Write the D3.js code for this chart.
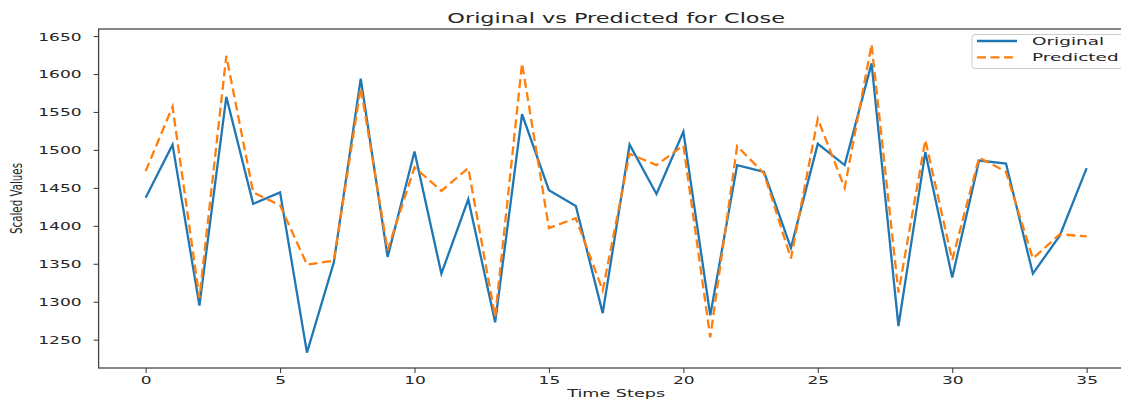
<!DOCTYPE html>
<html>
<head>
<meta charset="utf-8">
<script src="https://cdn.jsdelivr.net/npm/d3@7"></script>
<style>
  html, body { margin: 0; padding: 0; background: #fff; }
  svg { display: block; font-family: "DejaVu Sans", sans-serif; }
</style>
</head>
<body>
<svg id="chart" width="1121" height="399"></svg>
<script>
// Time step index for each observation
const timeSteps = d3.range(0, 36);

// Actual closing values
const original = [1437, 1507, 1295, 1570, 1429, 1444, 1233, 1352, 1594, 1359,
                  1498, 1337, 1435, 1273, 1547, 1447, 1426, 1285, 1507, 1442,
                  1524, 1282, 1480, 1471, 1371, 1508, 1480, 1614, 1268, 1497,
                  1332, 1486, 1482, 1337, 1387, 1476];

// Model predictions
const predicted = [1472, 1557, 1305, 1624, 1444, 1427, 1349, 1354, 1582, 1368,
                   1477, 1446, 1476, 1280, 1614, 1397, 1410, 1315, 1495, 1480,
                   1506, 1253, 1505, 1469, 1357, 1541, 1450, 1639, 1312, 1513,
                   1355, 1490, 1471, 1357, 1389, 1386];

const xTicks = [0, 5, 10, 15, 20, 25, 30, 35];
const yTicks = [1250, 1300, 1350, 1400, 1450, 1500, 1550, 1600, 1650];

const seriesNames = ["Original", "Predicted"];
const titleText = "Original vs Predicted for Close";
const xLabelText = "Time Steps";
const yLabelText = "Scaled Values";

// ---- layout ----
const plot = { left: 98.6, right: 1133.7, top: 29, bottom: 368 };
const colors = { Original: "#1f77b4", Predicted: "#ff7f0e" };
const spineColor = "#444";
const textColor = "#262626";
const stretch = { tick: 1.55, title: 1.6, label: 1.6, legend: 1.68 };

const svg = d3.select("#chart");

// x: matplotlib-style 5% margins around the index range
const xPad = (timeSteps[timeSteps.length - 1] - timeSteps[0]) * 0.05;
const x = d3.scaleLinear()
  .domain([timeSteps[0] - xPad, timeSteps[timeSteps.length - 1] + xPad])
  .range([plot.left, plot.right]);

const allVals = original.concat(predicted);
const [yMin, yMax] = d3.extent(allVals);
const yPad = (yMax - yMin) * 0.05;
const y = d3.scaleLinear()
  .domain([yMin - yPad, yMax + yPad])
  .range([plot.bottom, plot.top]);

// ---- lines ----
svg.append("clipPath").attr("id", "plotClip")
  .append("rect")
  .attr("x", plot.left).attr("y", plot.top)
  .attr("width", plot.right - plot.left).attr("height", plot.bottom - plot.top);

const line = d3.line().x((d, i) => x(timeSteps[i])).y(d => y(d));

const lines = svg.append("g").attr("clip-path", "url(#plotClip)");
lines.append("path")
  .datum(original)
  .attr("d", line)
  .attr("fill", "none")
  .attr("stroke", colors.Original)
  .attr("stroke-width", 2.3)
  .attr("stroke-linejoin", "miter");
lines.append("path")
  .datum(predicted)
  .attr("d", line)
  .attr("fill", "none")
  .attr("stroke", colors.Predicted)
  .attr("stroke-width", 2.3)
  .attr("stroke-dasharray", "9,4.5")
  .attr("stroke-linejoin", "miter");

// ---- spines ----
const spines = svg.append("g")
  .attr("fill", "none").attr("stroke", spineColor).attr("stroke-width", 1.3);
spines.append("rect")
  .attr("x", plot.left).attr("y", plot.top)
  .attr("width", plot.right - plot.left).attr("height", plot.bottom - plot.top);

// ---- axes ----
const yAxis = svg.append("g")
  .attr("transform", `translate(${plot.left},0)`)
  .call(d3.axisLeft(y).tickValues(yTicks).tickSize(5).tickFormat(d3.format("d")));
yAxis.select(".domain").remove();
yAxis.selectAll(".tick line").attr("stroke", spineColor).attr("stroke-width", 1.1);
yAxis.selectAll(".tick text")
  .attr("x", 0)
  .attr("dy", "0.36em")
  .attr("transform", `translate(-17,0) scale(${stretch.tick},1)`)
  .attr("fill", textColor)
  .style("font-size", "11px")
  .style("font-family", "DejaVu Sans");

const xAxis = svg.append("g")
  .attr("transform", `translate(0,${plot.bottom})`)
  .call(d3.axisBottom(x).tickValues(xTicks).tickSize(5).tickFormat(d3.format("d")));
xAxis.select(".domain").remove();
xAxis.selectAll(".tick line").attr("stroke", spineColor).attr("stroke-width", 1.1);
xAxis.selectAll(".tick text")
  .attr("y", 0)
  .attr("dy", 0)
  .attr("transform", `translate(0,16) scale(${stretch.tick},1)`)
  .attr("fill", textColor)
  .style("font-size", "11px")
  .style("font-family", "DejaVu Sans");

// ---- title and axis labels ----
const midX = (plot.left + plot.right) / 2;
svg.append("text")
  .attr("transform", `translate(${midX},23) scale(${stretch.title},1)`)
  .attr("text-anchor", "middle")
  .attr("fill", textColor)
  .style("font-size", "14px")
  .text(titleText);

svg.append("text")
  .attr("transform", `translate(${midX},397) scale(${stretch.label},1)`)
  .attr("text-anchor", "middle")
  .attr("fill", textColor)
  .style("font-size", "11px")
  .text(xLabelText);

svg.append("text")
  .attr("transform", `translate(22,${(plot.top + plot.bottom) / 2}) rotate(-90) scale(1,${stretch.label})`)
  .attr("text-anchor", "middle")
  .attr("fill", textColor)
  .style("font-size", "10.3px")
  .text(yLabelText);

// ---- legend ----
const legend = svg.append("g").attr("transform", "translate(972,34.5)");
legend.append("rect")
  .attr("x", 0).attr("y", 0)
  .attr("width", 155).attr("height", 34)
  .attr("rx", 3).attr("ry", 3)
  .attr("fill", "#fff").attr("fill-opacity", 0.8)
  .attr("stroke", "#cccccc").attr("stroke-width", 1);

const entries = legend.selectAll("g.entry")
  .data(seriesNames)
  .join("g")
  .attr("class", "entry")
  .attr("transform", (d, i) => `translate(0,${6.5 + i * 16.3})`);
entries.append("line")
  .attr("x1", 5).attr("x2", 45)
  .attr("y1", 0).attr("y2", 0)
  .attr("stroke", d => colors[d])
  .attr("stroke-width", 2.3)
  .attr("stroke-dasharray", d => d === "Predicted" ? "9,4.5" : null);
entries.append("text")
  .attr("transform", `translate(60,4) scale(${stretch.legend},1)`)
  .attr("fill", textColor)
  .style("font-size", "11px")
  .text(d => d);
</script>
</body>
</html>
